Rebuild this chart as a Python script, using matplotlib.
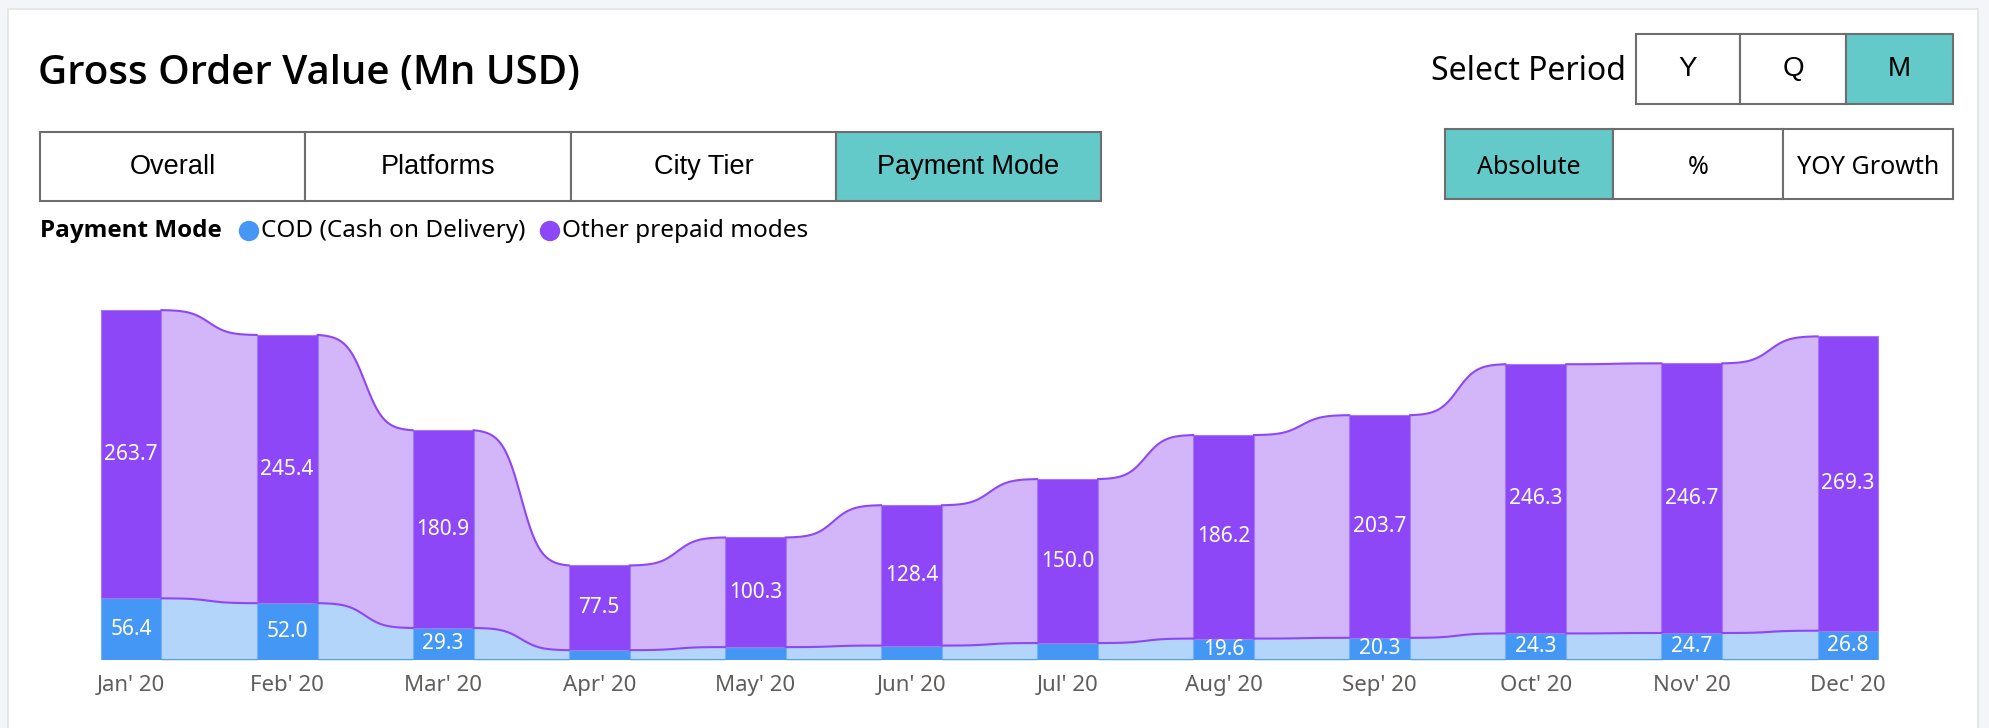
import numpy as np
import matplotlib.pyplot as plt
from matplotlib.patches import Rectangle, Circle

months = ["Jan' 20", "Feb' 20", "Mar' 20", "Apr' 20", "May' 20", "Jun' 20",
          "Jul' 20", "Aug' 20", "Sep' 20", "Oct' 20", "Nov' 20", "Dec' 20"]
cod = [56.4, 52.0, 29.3, 9.0, 11.8, 13.2, 15.5, 19.6, 20.3, 24.3, 24.7, 26.8]
other = [263.7, 245.4, 180.9, 77.5, 100.3, 128.4, 150.0, 186.2, 203.7, 246.3, 246.7, 269.3]
tabs = ["Overall", "Platforms", "City Tier", "Payment Mode"]
periods = ["Y", "Q", "M"]
modes = ["Absolute", "%", "YOY Growth"]

c_cod, c_cod_l = "#4597f5", "#b3d5fa"
c_oth, c_oth_l = "#8d47f6", "#d3b6f9"
teal = "#63c9c9"
seg = "Noto Sans"
segb = "Open Sans"

W, H = 1990, 728
fig = plt.figure(figsize=(W / 100, H / 100), dpi=100, facecolor="#f4f5f9")

# page furniture in pixel coords
ui = fig.add_axes([0, 0, 1, 1])
ui.set_xlim(0, W)
ui.set_ylim(H, 0)
ui.axis("off")
ui.add_patch(Rectangle((8, 9), 1970, 730, facecolor="white", edgecolor="#e3e3e6", lw=1.2))

ui.text(38, 74, "Gross Order Value (Mn USD)", fontsize=29, fontweight="semibold",
        family=segb, va="center", ha="left")


def button(x0, x1, y0, y1, label, on, fam, size, weight="normal", dy=0):
    ui.add_patch(Rectangle((x0, y0), x1 - x0, y1 - y0, facecolor=teal if on else "white",
                           edgecolor="#6e6e6e", lw=1.5))
    ui.text((x0 + x1) / 2, (y0 + y1) / 2 + dy, label, ha="center", va="center",
            fontsize=size, family=fam, fontweight=weight)


tab_x = [40, 305, 571, 836, 1101]
for i, t in enumerate(tabs):
    button(tab_x[i], tab_x[i + 1], 132, 201, t, t == "Payment Mode", "Liberation Sans", 19.5)

ui.text(1626, 71, "Select Period", ha="right", va="center", fontsize=23, family=seg)
per_x = [1636, 1740, 1846, 1953]
for i, p in enumerate(periods):
    button(per_x[i], per_x[i + 1], 34, 104, p, p == "M", "Liberation Sans", 20)

mode_x = [1445, 1613, 1783, 1953]
for i, m in enumerate(modes):
    button(mode_x[i], mode_x[i + 1], 129, 199, m, m == "Absolute", seg, 18, dy=4)

# legend
ui.text(40, 231, "Payment Mode", ha="left", va="center", fontsize=17.5, fontweight="bold", family=segb)
ui.add_patch(Circle((249, 231), 9.5, color=c_cod))
ui.text(261, 231, "COD (Cash on Delivery)", ha="left", va="center", fontsize=17.5, family=seg)
ui.add_patch(Circle((550, 231), 9.5, color=c_oth))
ui.text(562, 231, "Other prepaid modes", ha="left", va="center", fontsize=17.5, family=seg)

# ribbon chart
base_px, top_px = 660, 290
scale = 1.093
ax = fig.add_axes([53 / W, (H - base_px) / H, (1926 - 53) / W, (base_px - top_px) / H])
ax.set_xlim(-0.5, len(months) - 0.5)
ax.set_ylim(0, (base_px - top_px) / scale)
ax.patch.set_alpha(0)
for s in ax.spines.values():
    s.set_visible(False)
ax.set_yticks([])
ax.set_xticks(range(len(months)))
ax.set_xticklabels(months, fontsize=16, color="#605e5c", family=seg)
ax.tick_params(axis="x", length=0, pad=11)

cod = np.array(cod)
total = cod + np.array(other)
bw = 0.39
x = np.arange(len(months))

# s-shaped ribbon transition (flat at the bars, steep in the middle)
t = np.linspace(0, 1, 120)
k = 10
sig = 1 / (1 + np.exp(-k * (t - 0.5)))
ease = (sig - sig[0]) / (sig[-1] - sig[0])
for i in range(len(months) - 1):
    x0, x1 = x[i] + bw / 2, x[i + 1] - bw / 2
    xs = x0 + (x1 - x0) * t
    c_edge = cod[i] + (cod[i + 1] - cod[i]) * ease
    t_edge = total[i] + (total[i + 1] - total[i]) * ease
    ax.fill_between(xs, 0, c_edge, color=c_cod_l, lw=0)
    ax.fill_between(xs, c_edge, t_edge, color=c_oth_l, lw=0)
    ax.plot(xs, t_edge, color=c_oth, lw=1.5)
    ax.plot(xs, c_edge, color=c_oth, lw=1.5)
    ax.plot(xs, np.zeros_like(xs), color=c_cod, lw=2)

ax.bar(x, cod, width=bw, color=c_cod, edgecolor="#74b1f7", lw=0.8)
ax.bar(x, other, width=bw, bottom=cod, color=c_oth, edgecolor="#a678f7", lw=0.8)

for i in range(len(months)):
    ax.text(x[i], cod[i] + other[i] / 2, f"{other[i]:.1f}", ha="center", va="center",
            color="white", fontsize=15, family=seg)
    if cod[i] >= 18:
        ax.text(x[i], cod[i] / 2, f"{cod[i]:.1f}", ha="center", va="center",
                color="white", fontsize=15, family=seg)

fig.savefig("out.png", dpi=100, facecolor=fig.get_facecolor())
